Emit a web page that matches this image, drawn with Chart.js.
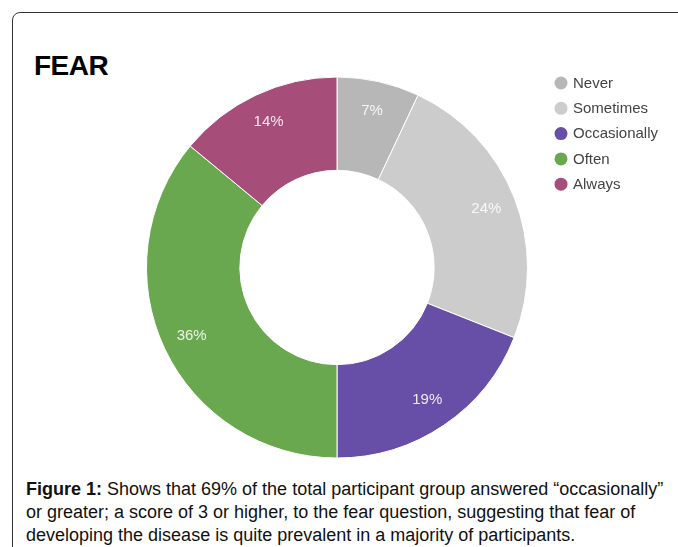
<!DOCTYPE html>
<html>
<head>
<meta charset="utf-8">
<script src="https://cdn.jsdelivr.net/npm/chart.js@4/dist/chart.umd.min.js"></script>
<style>
  html, body { margin: 0; padding: 0; background: #fff; }
  body { width: 678px; height: 547px; position: relative; overflow: hidden; font-family: "Liberation Sans", Arial, sans-serif; }
  .frame { position: absolute; left: 12px; top: 12px; width: 700px; height: 560px; border: 1px solid #333; border-radius: 8px; box-sizing: border-box; }
  .title { position: absolute; left: 34px; top: 50px; font: bold 28px "Liberation Sans", Arial, sans-serif; letter-spacing: -0.5px; color: #000; }
  #fearChart { position: absolute; left: 0; top: 0; }
  .caption { position: absolute; left: 26px; top: 478px; width: 650px; font: 18px/23px "Liberation Sans Narrow", "Arial Narrow", "Liberation Sans", sans-serif; color: #111; }
  .caption b { font-weight: bold; }
</style>
</head>
<body>
<div class="frame"></div>
<div class="title">FEAR</div>
<canvas id="fearChart" width="678" height="470"></canvas>
<div class="caption"><b>Figure 1:</b> Shows that 69% of the total participant group answered “occasionally” or greater; a score of 3 or higher, to the fear question, suggesting that fear of developing the disease is quite prevalent in a majority of participants.</div>

<script>
// 응답 분포 (%)
const labels = ['Never', 'Sometimes', 'Occasionally', 'Often', 'Always'];
const values = [7, 24, 19, 36, 14];
const colors = ['#b7b7b7', '#cccccc', '#674ea7', '#6aa84f', '#a64d79'];

// 조각 안쪽 퍼센트 표시
const sliceLabels = {
  id: 'sliceLabels',
  afterDatasetsDraw(chart) {
    const ctx = chart.ctx;
    const meta = chart.getDatasetMeta(0);
    ctx.save();
    ctx.font = '15px "Liberation Sans", Arial, sans-serif';
    ctx.fillStyle = 'rgba(255,255,255,0.88)';
    ctx.textAlign = 'center';
    ctx.textBaseline = 'middle';
    meta.data.forEach((arc, i) => {
      const p = arc.getProps(['x', 'y', 'startAngle', 'endAngle', 'innerRadius', 'outerRadius']);
      const a = (p.startAngle + p.endAngle) / 2;
      const r = p.innerRadius + (p.outerRadius - p.innerRadius) * 0.68;
      ctx.fillText(values[i] + '%', p.x + Math.cos(a) * r, p.y + Math.sin(a) * r);
    });
    ctx.restore();
  }
};

// 오른쪽 위 범례 (동그라미 + 항목명)
const sideLegend = {
  id: 'sideLegend',
  afterDraw(chart) {
    const ctx = chart.ctx;
    const ds = chart.data.datasets[0];
    ctx.save();
    ctx.font = '15px "Liberation Sans", Arial, sans-serif';
    ctx.textBaseline = 'middle';
    chart.data.labels.forEach((name, i) => {
      const y = 83 + i * 25.3;
      ctx.fillStyle = ds.backgroundColor[i];
      ctx.beginPath();
      ctx.arc(561, y, 6.5, 0, Math.PI * 2);
      ctx.fill();
      ctx.fillStyle = '#444';
      ctx.fillText(name, 573, y + 0.5);
    });
    ctx.restore();
  }
};

new Chart(document.getElementById('fearChart'), {
  type: 'doughnut',
  data: {
    labels,
    datasets: [{
      data: values,
      backgroundColor: colors,
      borderColor: '#ffffff',
      borderWidth: 1,
      hoverOffset: 0
    }]
  },
  options: {
    responsive: false,
    animation: false,
    cutout: '51%',
    layout: { padding: { left: 146, right: 150, top: 76, bottom: 11 } },
    plugins: {
      legend: { display: false },
      tooltip: { enabled: false }
    }
  },
  plugins: [sliceLabels, sideLegend]
});
</script>
</body>
</html>
